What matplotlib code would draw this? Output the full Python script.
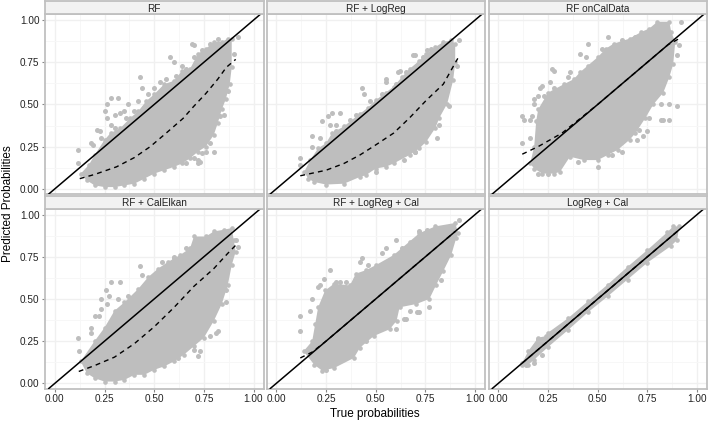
import matplotlib
matplotlib.use('Agg')
import matplotlib.pyplot as plt

plt.rcParams['font.family'] = ['Liberation Sans', 'DejaVu Sans']

titles = ['RF', 'RF + LogReg', 'RF onCalData', 'RF + CalElkan', 'RF + LogReg + Cal', 'LogReg + Cal']
ticks = [0, 0.25, 0.5, 0.75, 1]
tick_labels = ['0.00', '0.25', '0.50', '0.75', '1.00']

# outline of the dense grey cloud
rf_x = [.13, .17, .2, .25, .28, .33, .38, .42, .46, .5, .55, .6, .64, .68, .72, .76, .8, .84, .87, .89,
        .89, .88, .86, .84, .82, .8, .76, .72, .68, .64, .6, .55, .5, .45, .4, .35, .3, .25, .2, .16]
rf_y = [.09, .14, .2, .29, .33, .36, .42, .46, .52, .56, .62, .64, .7, .71, .8, .83, .87, .87, .89, .89,
        .72, .62, .53, .47, .39, .32, .25, .22, .18, .15, .13, .11, .09, .06, .03, .02, .01, .01, .02, .05]
logreg_x = [.14, .17, .21, .25, .28, .34, .42, .46, .5, .55, .59, .63, .67, .72, .755, .8, .84, .88, .9,
            .9, .89, .86, .82, .8, .755, .72, .67, .59, .55, .5, .45, .42, .34, .25, .19, .16]
logreg_y = [.1, .17, .24, .27, .33, .37, .445, .48, .525, .57, .605, .66, .71, .76, .8, .84, .87, .88, .86,
            .75, .645, .505, .42, .36, .28, .24, .2, .15, .13, .12, .08, .07, .03, .025, .04, .06]
caldata_x = [.16, .18, .19, .2, .25, .33, .38, .41, .45, .5, .54, .58, .66, .72, .76, .8, .86, .87, .89,
             .88, .86, .83, .78, .74, .69, .66, .6, .55, .5, .43, .36, .31, .28, .22, .18]
caldata_y = [.15, .25, .4, .47, .57, .62, .65, .69, .73, .78, .83, .86, .89, .93, .95, .99, .99, .93, .87,
             .74, .66, .57, .5, .42, .33, .29, .23, .2, .17, .17, .19, .1, .09, .09, .12]
elkan_x = [.13, .2, .25, .3, .35, .42, .47, .52, .57, .63, .68, .7, .76, .8, .85, .89, .9, .91,
           .89, .87, .84, .8, .75, .7, .65, .6, .55, .5, .45, .4, .35, .3, .25, .2, .16]
elkan_y = [.13, .25, .33, .43, .48, .56, .63, .68, .72, .76, .8, .87, .87, .9, .91, .92, .85, .78,
           .7, .58, .47, .37, .27, .22, .17, .13, .1, .08, .05, .05, .02, .01, .01, .03, .06]
lrcal_x = [.137, .18, .195, .21, .245, .29, .37, .4, .45, .5, .59, .67, .72, .8, .9, .915, .905, .88, .84,
           .805, .77, .705, .62, .605, .57, .49, .42, .39, .29, .23, .19]
lrcal_y = [.19, .25, .35, .45, .55, .59, .58, .65, .67, .7, .76, .84, .89, .93, .95, .89, .86, .76, .665,
           .585, .5, .47, .45, .37, .32, .28, .21, .15, .09, .075, .11]
cal_x = [.12, .15, .2, .24, .25, .35, .45, .55, .65, .75, .85, .88, .91,
         .9, .87, .75, .65, .55, .45, .35, .25, .18, .15, .12]
cal_y = [.12, .19, .27, .28, .3, .385, .485, .585, .69, .79, .895, .93, .93,
         .85, .815, .715, .615, .515, .42, .315, .215, .14, .11, .11]

# stray points outside the cloud and bumps along its edge
rf_out_x = [.117, .117, .18, .19, .21, .225, .26, .28, .32, .25, .26, .3, .33, .35, .37, .42, .43, .44, .58, .6,
            .69, .7, .92, .8, .72, .72, .73, .83, .87, .9, .3, .36, .4, .47, .5, .53, .56, .61, .64, .66,
            .7, .74, .78, .82, .78, .76, .7, .66, .74, .85, .28, .23]
rf_out_y = [.23, .15, .27, .26, .35, .34, .5, .54, .54, .46, .42, .44, .45, .46, .5, .52, .66, .6, .78, .75,
            .86, .85, .9, .22, .17, .15, .16, .43, .58, .8, .36, .42, .46, .56, .6, .63, .65, .67, .73, .71,
            .78, .82, .86, .89, .27, .22, .18, .15, .21, .44, .38, .3]
logreg_out_x = [.12, .12, .18, .18, .22, .23, .26, .28, .32, .27, .3, .34, .4, .43, .44, .47, .55, .55, .6, .62,
                .61, .7, .69, .78, .92, .91, .87, .81, .7, .66, .3, .37, .53, .65, .74, .76, .82, .7, .64, .5]
logreg_out_y = [.18, .14, .31, .25, .3, .4, .43, .45, .45, .38, .38, .36, .44, .6, .56, .52, .65, .63, .62, .7,
                .69, .79, .79, .83, .88, .73, .49, .3, .22, .22, .34, .41, .56, .69, .78, .82, .38, .22, .17, .1]
caldata_out_x = [.12, .12, .13, .16, .17, .18, .18, .21, .27, .28, .36, .41, .45, .55, .69, .92, .91, .9,
                 .82, .83, .86, .9, .86, .7, .73, .75, .5, .57, .2, .25, .22, .26, .3, .35, .44, .52, .62, .8,
                 .82, .76, .71, .62, .4, .16, .2, .23, .28]
caldata_out_y = [.43, .27, .41, .41, .43, .5, .53, .6, .71, .7, .69, .8, .86, .9, .9, .99, .85, .79,
                 .41, .41, .41, .49, .5, .29, .31, .34, .13, .2, .09, .09, .61, .63, .58, .66, .78, .83, .88, .58,
                 .5, .42, .35, .22, .16, .3, .55, .55, .6]
elkan_out_x = [.117, .12, .18, .18, .2, .22, .23, .255, .28, .33, .32, .43, .48, .72, .73, .81, .86, .92, .91, .6,
               .26, .37, .44, .54, .6, .66, .72, .82, .78, .7, .62, .86, .27, .23]
elkan_out_y = [.27, .19, .33, .3, .4, .4, .5, .555, .6, .6, .5, .695, .62, .16, .19, .3, .48, .81, .85, .75,
               .47, .52, .64, .72, .74, .8, .85, .31, .28, .2, .15, .55, .52, .44]
lrcal_out_x = [.12, .12, .17, .18, .22, .27, .32, .41, .43, .55, .6, .72, .92, .72, .71, .77, .64, .65, .6, .21,
               .24, .3, .35, .42, .46, .53, .63, .76, .83, .67, .55, .35, .25, .45]
lrcal_out_y = [.4, .31, .43, .5, .58, .67, .6, .64, .74, .8, .85, .9, .97, .42, .42, .45, .38, .38, .32, .57,
               .62, .6, .6, .72, .7, .77, .8, .91, .61, .43, .35, .16, .08, .25]
cal_out_x = [.13, .14, .17, .18, .2, .22]
cal_out_y = [.12, .11, .2, .12, .26, .17]

# dashed calibration curves
rf_fit_x = [.125, .2, .31, .4, .48, .56, .645, .7, .76, .82, .863, .91]
rf_fit_y = [.06, .085, .13, .185, .25, .33, .417, .49, .565, .65, .72, .767]
logreg_fit_x = [.12, .25, .34, .42, .5, .59, .67, .755, .84, .913]
logreg_fit_y = [.077, .11, .15, .2, .26, .33, .42, .525, .62, .773]
caldata_fit_x = [.12, .2, .32, .5, .75, .855, .918]
caldata_fit_y = [.205, .25, .33, .5, .75, .855, .895]
elkan_fit_x = [.12, .2, .3, .4, .5, .6, .7, .8, .87, .92]
elkan_fit_y = [.07, .105, .155, .235, .335, .45, .575, .68, .77, .83]
lrcal_fit_x = [.12, .18, .25, .5, .75, .9]
lrcal_fit_y = [.15, .185, .25, .5, .75, .9]
cal_fit_x = [.12, .5, .9]
cal_fit_y = [.12, .5, .9]

clouds = [(rf_x, rf_y), (logreg_x, logreg_y), (caldata_x, caldata_y), (elkan_x, elkan_y), (lrcal_x, lrcal_y), (cal_x, cal_y)]
strays = [(rf_out_x, rf_out_y), (logreg_out_x, logreg_out_y), (caldata_out_x, caldata_out_y),
          (elkan_out_x, elkan_out_y), (lrcal_out_x, lrcal_out_y), (cal_out_x, cal_out_y)]
fits = [(rf_fit_x, rf_fit_y), (logreg_fit_x, logreg_fit_y), (caldata_fit_x, caldata_fit_y),
        (elkan_fit_x, elkan_fit_y), (lrcal_fit_x, lrcal_fit_y), (cal_fit_x, cal_fit_y)]

W, H = 709, 423
GREY = '#bebebe'
BORDER = '#c0c0c0'
TEXT = '#222222'

fig = plt.figure(figsize=(W / 100, H / 100), dpi=100)

# panel edges in pixels, measured from top left
lefts = [45, 266.5, 488.5]
width = 218.5
tops = [14.5, 209]
height = 179.5
strip_h = 13


def px_axes(left, top, w, h):
    return fig.add_axes([left / W, 1 - (top + h) / H, w / W, h / H])


for i in range(6):
    col = i % 3
    row = i // 3
    ax = px_axes(lefts[col], tops[row], width, height)
    ax.set_xlim(-0.05, 1.05)
    ax.set_ylim(-0.031, 1.033)
    ax.set_xticks(ticks)
    ax.set_yticks(ticks)
    ax.set_xticks([0.125, 0.375, 0.625, 0.875], minor=True)
    ax.set_yticks([0.125, 0.375, 0.625, 0.875], minor=True)
    ax.grid(True, which='major', color='#f0f0f0', lw=1)
    ax.grid(True, which='minor', color='#f7f7f7', lw=0.7)
    ax.set_axisbelow(True)
    ax.tick_params(which='minor', length=0)
    ax.tick_params(which='major', length=2.5, width=0.8, color='#888888', labelcolor=TEXT, labelsize=7.2, pad=1.5)
    ax.set_xticklabels(tick_labels if row == 1 else [])
    ax.set_yticklabels(tick_labels if col == 0 else [])
    if row == 0:
        ax.tick_params(axis='x', length=0)
    if col > 0:
        ax.tick_params(axis='y', length=0)
    for s in ax.spines.values():
        s.set_color(BORDER)
        s.set_linewidth(1.3)

    cx, cy = clouds[i]
    ax.fill(cx, cy, color=GREY, lw=0, zorder=2)
    ax.scatter(cx, cy, s=11, color=GREY, lw=0, zorder=2)
    ox, oy = strays[i]
    ax.scatter(ox, oy, s=13, color=GREY, lw=0, zorder=2)
    fx, fy = fits[i]
    ax.plot(fx, fy, color='black', lw=1, ls=(0, (3.5, 3)), zorder=3)
    ax.axline((0, 0), slope=1, color='black', lw=1.1, zorder=4)

    strip = px_axes(lefts[col], tops[row] - strip_h, width, strip_h)
    strip.set_xticks([])
    strip.set_yticks([])
    strip.set_facecolor('#f2f2f2')
    for s in strip.spines.values():
        s.set_color(BORDER)
        s.set_linewidth(1.3)
    strip.text(0.5, 0.45, titles[i], ha='center', va='center', fontsize=7.2, color=TEXT, transform=strip.transAxes)

fig.text(375 / W, 1 - 414 / H, 'True probabilities', ha='center', va='center', fontsize=8.5, color='black')
fig.text(8 / W, 1 - 204 / H, 'Predicted Probabilities', rotation=90, ha='center', va='center', fontsize=8.5, color='black')

fig.savefig('out.png', dpi=100)
